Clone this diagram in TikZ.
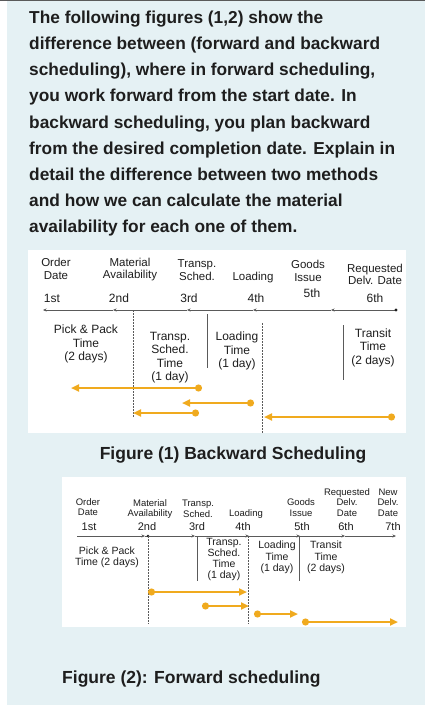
\documentclass[tikz,border=0pt]{standalone}
\usepackage{fontspec}
\setmainfont{Liberation Sans}
\usetikzlibrary{arrows.meta}
\definecolor{bgblue}{RGB}{229,241,244}
\definecolor{ink}{RGB}{30,30,30}
\definecolor{axisgray}{RGB}{90,90,90}
\definecolor{orng}{RGB}{240,170,30}
\begin{document}
\begin{tikzpicture}[x=1pt,y=-1pt,
  para/.style={anchor=base west,inner sep=0,text=ink,font=\fontsize{17.3}{20}\selectfont\bfseries},
  figcap/.style={anchor=center,inner sep=0,text=ink,font=\fontsize{17.5}{20}\selectfont\bfseries},
  lblA/.style={align=center,inner sep=0,text=ink,font=\fontsize{11.5}{12.5}\selectfont},
  ordA/.style={inner sep=0,text=ink,font=\fontsize{12}{13}\selectfont},
  spanA/.style={align=center,inner sep=0,text=ink,font=\fontsize{12}{13.5}\selectfont},
  lblB/.style={align=center,inner sep=0,text=ink,font=\fontsize{9.5}{10.5}\selectfont},
  ordB/.style={inner sep=0,text=ink,font=\fontsize{11}{12}\selectfont},
  spanB/.style={align=center,inner sep=0,text=ink,font=\fontsize{10.5}{11.3}\selectfont},
  axseg/.style={draw=axisgray,line width=0.8pt,-{Stealth[length=3.5pt,width=3pt]}},
  dotv/.style={draw=axisgray,line width=0.6pt,dash pattern=on 1.5pt off 1.5pt},
  solidv/.style={draw=axisgray,line width=0.8pt},
  orarrow/.style={draw=orng,line width=2.2pt,{Circle[length=7pt]}-{Triangle[length=8pt,width=7pt]}}
]
\useasboundingbox (0,0) rectangle (439,705);
\fill[bgblue] (7,0) rectangle (425,705);
\draw[axisgray,line width=1.2pt] (0,0.5) -- (425,0.5);

% paragraph
\node[para] (p1) at (29,23.3) {The following figures (1,2) show the};
\node[para] (p2) at (29,49.5) {difference between (forward and backward};
\node[para] (p3) at (29,75.7) {scheduling), where in forward scheduling,};
\node[para] (p4) at (29,101.9) {you work forward from the start date. In};
\node[para] (p5) at (29,128.1) {backward scheduling, you plan backward};
\node[para] (p6) at (29,154.3) {from the desired completion date. Explain in};
\node[para] (p7) at (29,180.5) {detail the difference between two methods};
\node[para] (p8) at (29,206.7) {and how we can calculate the material};
\node[para] (p9) at (29,232.9) {availability for each one of them.};

% ---------- Figure 1 ----------
\fill[white] (28,250) rectangle (406,433);
\node[lblA] (a1) at (56,269) {Order\\Date};
\node[lblA] (a2) at (130,269.5) {Material\\Availability};
\node[lblA] (a3) at (197,270) {Transp.\\Sched.};
\node[lblA] (a4) at (253,278) {Loading};
\node[lblA] (a5) at (308,271) {Goods\\Issue};
\node[lblA] (a6) at (375,274.5) {Requested\\Delv. Date};
\node[ordA] (o1) at (52,298) {1st};
\node[ordA] (o2) at (119,298) {2nd};
\node[ordA] (o3) at (189,298) {3rd};
\node[ordA] (o4) at (256,298) {4th};
\node[ordA] (o5) at (312,293) {5th};
\node[ordA] (o6) at (375,298) {6th};

\coordinate (t6) at (396,310);
\coordinate (t5) at (331,310);
\coordinate (t4) at (253,310);
\coordinate (t3) at (187,310);
\coordinate (t2) at (113,310);
\coordinate (t1) at (43,310);
\draw[axseg] (t6) -- (t5);
\draw[axseg] (t5) -- (t4);
\draw[axseg] (t4) -- (t3);
\draw[axseg] (t3) -- (t2);
\draw[axseg] (t2) -- (t1);
\fill[ink] (t6) circle (1.6pt);

\coordinate (d1a) at (133,310);
\coordinate (d1b) at (133,417);
\coordinate (d2a) at (262,323);
\coordinate (d2b) at (262,433);
\draw[dotv] (d1a) -- (d1b);
\draw[dotv] (d2a) -- (d2b);
\coordinate (s1a) at (207,314);
\coordinate (s1b) at (207,368);
\coordinate (s2a) at (343,325);
\coordinate (s2b) at (343,380);
\draw[solidv] (s1a) -- (s1b);
\draw[solidv] (s2a) -- (s2b);

\node[spanA] (m1) at (86,344) {Pick \& Pack\\Time\\(2 days)};
\node[spanA] (m2) at (170,357.5) {Transp.\\Sched.\\Time\\(1 day)};
\node[spanA] (m3) at (237,351) {Loading\\Time\\(1 day)};
\node[spanA] (m4) at (373,347.5) {Transit\\Time\\(2 days)};

\coordinate (b1s) at (202,388); \coordinate (b1e) at (71,388);
\coordinate (b2s) at (254,403); \coordinate (b2e) at (182,403);
\coordinate (b3s) at (199,413); \coordinate (b3e) at (133,413);
\coordinate (b4s) at (395,417); \coordinate (b4e) at (264,417);
\draw[orarrow] (b1s) -- (b1e);
\draw[orarrow] (b2s) -- (b2e);
\draw[orarrow] (b3s) -- (b3e);
\draw[orarrow] (b4s) -- (b4e);

\node[figcap] (c1) at (233,455) {Figure (1) Backward Scheduling};

% ---------- Figure 2 ----------
\fill[white] (62,477) rectangle (406,627);
\node[lblB] (e1) at (88,507) {Order\\Date};
\node[lblB] (e2) at (150,509) {Material\\Availability};
\node[lblB] (e3) at (198,509) {Transp.\\Sched.};
\node[lblB] (e4) at (246,514) {Loading};
\node[lblB] (e5) at (301,507.5) {Goods\\Issue};
\node[lblB] (e6) at (347,502.5) {Requested\\Delv.\\Date};
\node[lblB] (e7) at (388,502.5) {New\\Delv.\\Date};
\node[ordB] (q1) at (89,527) {1st};
\node[ordB] (q2) at (147,527) {2nd};
\node[ordB] (q3) at (197,527) {3rd};
\node[ordB] (q4) at (243,527) {4th};
\node[ordB] (q5) at (302,527) {5th};
\node[ordB] (q6) at (346,527) {6th};
\node[ordB] (q7) at (393,527) {7th};

\coordinate (u0) at (77,536);
\coordinate (u1) at (145,536);
\coordinate (u2) at (195,536);
\coordinate (u3) at (249,536);
\coordinate (u4) at (300,536);
\coordinate (u5) at (345,536);
\coordinate (u6) at (396,536);
\draw[axseg] (u0) -- (u1);
\draw[axseg] (u1) -- (u2);
\draw[axseg] (u2) -- (u3);
\draw[axseg] (u3) -- (u4);
\draw[axseg] (u4) -- (u5);
\draw[axseg] (u5) -- (u6);
\fill[ink] (148,536) circle (1.3pt);

\coordinate (g1a) at (148,536);
\coordinate (g1b) at (148,624);
\coordinate (g2a) at (248,536);
\coordinate (g2b) at (248,624);
\draw[dotv] (g1a) -- (g1b);
\draw[dotv] (g2a) -- (g2b);
\coordinate (h1a) at (197,536);
\coordinate (h1b) at (197,581);
\coordinate (h2a) at (299,536);
\coordinate (h2b) at (299,581);
\draw[solidv] (h1a) -- (h1b);
\draw[solidv] (h2a) -- (h2b);

\node[spanB] (n1) at (107,557) {Pick \& Pack\\Time (2 days)};
\node[spanB] (n2) at (224,559.5) {Transp.\\Sched.\\Time\\(1 day)};
\node[spanB] (n3) at (277,557.5) {Loading\\Time\\(1 day)};
\node[spanB] (n4) at (326,557.5) {Transit\\Time\\(2 days)};

\coordinate (f1s) at (148,592); \coordinate (f1e) at (247,592);
\coordinate (f2s) at (202,606); \coordinate (f2e) at (249,606);
\coordinate (f3s) at (254,614); \coordinate (f3e) at (298,614);
\coordinate (f4s) at (302,622); \coordinate (f4e) at (398,622);
\draw[orarrow] (f1s) -- (f1e);
\draw[orarrow] (f2s) -- (f2e);
\draw[orarrow] (f3s) -- (f3e);
\draw[orarrow] (f4s) -- (f4e);

\node[figcap,anchor=west] (c2) at (62,679) {Figure (2): Forward scheduling};
\end{tikzpicture}
\end{document}
